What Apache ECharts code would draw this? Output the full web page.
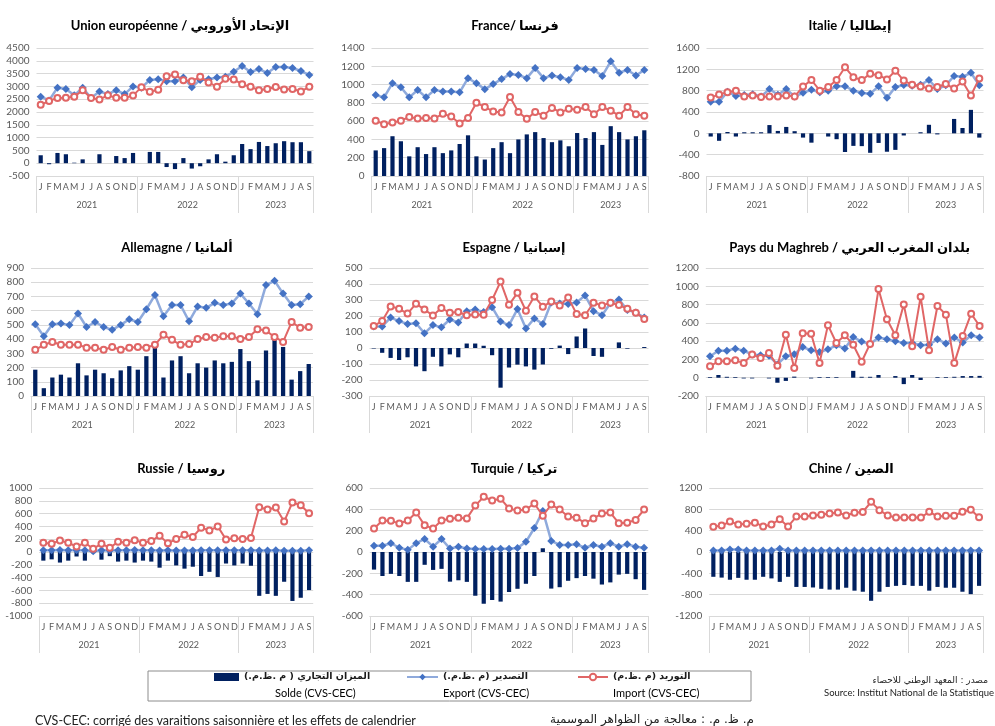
<!DOCTYPE html>
<html><head><meta charset="utf-8">
<script src="https://cdn.jsdelivr.net/npm/echarts@6.0.0/dist/echarts.min.js"></script>
<style>html,body{margin:0;padding:0;background:#fff}#c{width:995px;height:726px}</style>
</head><body><div id="c"></div>
<script>
// ---- tick labels ----
const monthLetters = ['J','F','M','A','M','J','J','A','S','O','N','D'];
const years = ['2021','2022','2023'];
const monthsPerYear = [12,12,9];

// ---- series names ----
const seriesNames = ['Solde (CVS-CEC)','Export (CVS-CEC)','Import (CVS-CEC)'];
const legendArabic = ['الميزان التجاري ( م .ظ.م.)','التصدير (م .ظ.م.)','التوريد (م .ظ.م)'];

// ---- data (million TND, CVS-CEC) ----
const euSolde  = [310,-40,400,350,20,150,0,350,0,280,200,400,0,440,440,-150,-230,200,-210,-120,150,350,60,310,750,550,830,670,780,860,820,820,470];
const euExport = [2600,2450,2950,2900,2650,2950,2550,2800,2700,2850,2700,3000,2950,3250,3280,3200,3200,3350,2970,3250,3280,3350,3380,3570,3800,3560,3680,3520,3760,3760,3720,3600,3450];
const euImport = [2280,2430,2550,2560,2600,2850,2550,2490,2650,2560,2560,2640,2970,2790,2870,3400,3460,3240,3200,3380,3150,2990,3300,3270,3080,2990,2850,2900,2980,2880,2900,2800,2990];

const frSolde  = [280,305,435,380,215,315,240,315,250,280,350,445,215,180,305,370,250,400,455,480,415,370,390,325,470,415,480,340,545,480,400,435,500];
const frExport = [885,860,1015,970,860,940,860,940,925,925,915,1070,1015,950,1005,1060,1115,1105,1070,1180,1070,1100,1080,1050,1180,1170,1160,1095,1255,1130,1160,1100,1160];
const frImport = [605,565,585,605,645,630,635,630,680,650,575,635,800,755,705,695,865,700,625,700,660,745,695,735,725,755,675,755,715,660,755,675,660];

const itSolde  = [-60,-140,25,-60,20,20,20,155,45,120,40,-80,-175,0,-60,-110,-350,-235,-240,-365,-180,-345,-310,-40,0,20,160,-20,0,270,100,440,-80];
const itExport = [590,590,780,700,720,735,690,830,725,830,690,760,815,770,800,885,885,800,755,740,885,665,870,905,890,910,1000,830,900,1075,1060,1135,900];
const itImport = [670,730,770,800,690,710,680,690,690,710,690,880,1000,800,870,1000,1240,1050,1000,1115,1090,1010,1175,990,910,880,840,870,925,840,970,710,1030];

const deSolde  = [185,55,130,150,130,230,145,185,160,125,180,210,185,280,345,130,250,280,160,230,200,250,230,240,330,245,110,320,400,345,115,175,225];
const deExport = [505,420,505,510,500,580,485,520,485,465,500,540,520,610,710,560,640,640,525,630,620,655,640,650,720,650,575,780,810,720,640,645,700];
const deImport = [325,360,380,360,360,360,340,340,325,345,325,340,345,340,360,430,395,360,365,400,415,410,420,420,400,415,470,460,415,380,520,480,485];

const esSolde  = [-3,-30,-62,-75,-58,-115,-145,-55,-115,-40,-58,28,28,14,-45,-248,-122,-104,-115,-135,-103,-5,15,-38,72,122,-50,-55,0,35,-4,0,6];
const esExport = [135,135,190,168,150,155,92,143,130,178,160,230,240,225,255,165,143,243,122,185,150,285,278,275,285,328,230,205,280,303,238,222,190];
const esImport = [138,168,260,245,215,277,240,203,250,220,225,205,210,208,300,415,270,345,233,322,258,290,265,315,213,205,283,265,283,268,245,220,182];

const mgSolde  = [8,30,10,8,-8,-8,0,-8,-55,-35,12,0,-8,8,8,8,0,75,10,10,30,0,18,-70,30,-25,0,8,8,10,18,18,20];
const mgExport = [235,295,295,318,295,255,245,240,145,235,258,335,300,280,310,355,320,445,395,365,440,420,400,380,380,355,360,420,375,440,385,465,440];
const mgImport = [125,180,180,190,160,255,215,270,130,470,105,485,480,160,575,380,465,360,175,370,970,640,465,800,345,885,300,785,690,160,455,700,565];

const ruSolde  = [-135,-115,-165,-135,-70,-135,-20,-120,-65,-150,-135,-165,-135,-150,-245,-135,-210,-260,-230,-375,-310,-390,-180,-210,-180,-215,-685,-655,-685,-465,-765,-715,-595];
const ruExport = [28,28,30,28,26,28,12,28,22,28,28,30,28,28,22,28,24,24,24,28,28,28,28,28,28,28,24,24,28,18,18,18,26];
const ruImport = [145,130,180,145,85,145,50,130,65,160,145,185,145,170,255,135,205,270,235,380,335,400,195,215,205,220,700,665,695,475,775,730,605];

const trSolde  = [-165,-225,-205,-225,-280,-280,-120,-168,-158,-278,-265,-280,-410,-485,-450,-465,-375,-345,-298,-225,35,-343,-330,-270,-245,-225,-250,-305,-285,-212,-205,-255,-355];
const trExport = [58,58,82,40,20,82,122,50,122,32,50,32,28,28,28,30,30,38,95,225,385,104,66,66,72,40,66,50,82,50,72,50,40];
const trImport = [220,295,292,268,295,370,250,220,295,312,322,315,435,518,483,500,408,388,398,455,340,445,398,333,322,270,315,360,370,270,275,300,398];

const cnSolde  = [-465,-480,-520,-485,-520,-520,-465,-495,-560,-465,-655,-655,-665,-690,-705,-705,-670,-725,-745,-915,-745,-655,-635,-620,-635,-635,-725,-655,-670,-670,-745,-790,-635];
const cnExport = [30,30,45,45,30,30,30,30,60,30,30,30,30,30,30,30,30,30,30,30,30,30,30,30,30,30,30,30,30,30,30,30,30];
const cnImport = [475,495,570,515,530,550,480,515,615,480,665,665,685,700,720,740,685,735,750,940,785,685,645,645,645,645,755,665,680,680,755,790,650];

// ---- panels ----
const panelTitles = ['Union européenne / الإتحاد الأوروبي','France/ فرنسا','Italie / إيطاليا',
  'Allemagne / ألمانيا','Espagne / إسبانيا','Pays du Maghreb / بلدان المغرب العربي',
  'Russie / روسيا','Turquie / تركيا','Chine / الصين'];
const panelData = [
  [euSolde,euExport,euImport],[frSolde,frExport,frImport],[itSolde,itExport,itImport],
  [deSolde,deExport,deImport],[esSolde,esExport,esImport],[mgSolde,mgExport,mgImport],
  [ruSolde,ruExport,ruImport],[trSolde,trExport,trImport],[cnSolde,cnExport,cnImport]];
const yRanges = [[-500,4500,500],[0,1400,200],[-800,1600,400],[0,900,100],[-300,500,100],[-200,1200,200],[-1000,1000,200],[-600,600,200],[-1200,1200,400]];

// layout (pixels)
const layout = [
  {l:36.5,w:277,t:48,tt:14},{l:371.5,w:277,t:48,tt:14},{l:706.5,w:277,t:48,tt:14},
  {l:31,w:282,t:268,tt:236},{l:369.5,w:279,t:268,tt:236},{l:705.8,w:278,t:268,tt:236},
  {l:39.2,w:274,t:488,tt:457},{l:369.8,w:278.5,t:488,tt:457},{l:709.2,w:274,t:488,tt:457}];
const plotH = 128;

// build categories
const periods = [];
years.forEach((y,yi)=>{ for(let m=0;m<monthsPerYear[yi];m++) periods.push({key:y+'-'+(m+1), letter:monthLetters[m]}); });
const monthCats = periods.map(p=>p.key);
const letterOf = {}; periods.forEach(p=>letterOf[p.key]=p.letter);
// half-month boundary axis for the year row
const nHalf = periods.length*2;
const halfCats = []; for(let k=0;k<=nHalf;k++) halfCats.push(String(k));
const yearCenter = {}; const yearBounds = [0];
let acc=0;
years.forEach((y,yi)=>{ yearCenter[acc + monthsPerYear[yi]] = y; acc += monthsPerYear[yi]*2; yearBounds.push(acc); });

const FONT = 'Lato, "DejaVu Sans", sans-serif';
const GRID_C = '#d9d9d9';
const LBL_C = '#595959';

const grids=[], xAxes=[], yAxes=[], series=[], titles=[];
panelData.forEach((pd,g)=>{
  const L = layout[g];
  grids.push({left:L.l, top:L.t, width:L.w, height:plotH, containLabel:false});
  titles.push({text:panelTitles[g], left:L.l + L.w/2, top:L.tt, textAlign:'center',
    textStyle:{fontSize:13, fontWeight:'bold', color:'#000', fontFamily:FONT}});
  xAxes.push({type:'category', gridIndex:g, data:monthCats, position:'bottom', boundaryGap:true,
    axisLine:{show:true, onZero:false, lineStyle:{color:GRID_C}}, axisTick:{show:false},
    axisLabel:{interval:0, fontSize:9, color:LBL_C, margin:7, fontFamily:FONT, formatter:v=>letterOf[v]},
    splitLine:{show:false}});
  xAxes.push({type:'category', gridIndex:g, data:halfCats, position:'bottom', boundaryGap:false,
    axisLine:{show:false, onZero:false},
    axisTick:{show:true, length:37, interval:(i)=>yearBounds.indexOf(i)>=0, lineStyle:{color:GRID_C}},
    axisLabel:{interval:(i)=>yearCenter[i]!==undefined, fontSize:9, color:LBL_C, margin:25, fontFamily:FONT,
      formatter:(v)=>yearCenter[+v]||''},
    splitLine:{show:false}});
  const yr = yRanges[g];
  yAxes.push({type:'value', gridIndex:g, min:yr[0], max:yr[1], interval:yr[2],
    axisLine:{show:false}, axisTick:{show:false},
    axisLabel:{fontSize:10, color:LBL_C, margin:7, fontFamily:FONT, formatter:(v)=>String(v)},
    splitLine:{lineStyle:{color:GRID_C, width:1}}});
  series.push({name:seriesNames[0], type:'bar', xAxisIndex:2*g, yAxisIndex:g, data:pd[0],
    barWidth:'50%', itemStyle:{color:'#002060'}, z:1});
  series.push({name:seriesNames[1], type:'line', xAxisIndex:2*g, yAxisIndex:g, data:pd[1],
    symbol:'diamond', symbolSize:8, itemStyle:{color:'#4472C4'}, lineStyle:{color:'#8FAADC', width:2.5}, z:2});
  series.push({name:seriesNames[2], type:'line', xAxisIndex:2*g, yAxisIndex:g, data:pd[2],
    symbol:'emptyCircle', symbolSize:6, itemStyle:{color:'#E06666', borderWidth:1.5}, lineStyle:{color:'#E06666', width:2}, z:3});
});

// legend French sub-labels and footer texts
const legendLeft = [214, 406, 577];
const legendWidths = [25, 31, 30];
const frenchLeft = [270, 438, 608];
seriesNames.forEach((n,i)=>{
  titles.push({text:n, left:frenchLeft[i], top:683, textStyle:{fontSize:11, fontWeight:'normal', color:'#000', fontFamily:FONT}});
});
titles.push({text:'مصدر : المعهد الوطني للاحصاء', right:2, top:671, textStyle:{fontSize:9, fontWeight:'normal', color:'#222', fontFamily:'"DejaVu Sans", sans-serif'}});
titles.push({text:'Source: Institut National de la Statistique', left:819, top:683, textStyle:{fontSize:9.5, fontWeight:'normal', color:'#222', fontFamily:FONT}});
titles.push({text:'CVS-CEC: corrigé des varaitions saisonnière et les effets de calendrier', left:30, top:709, textStyle:{fontSize:12.5, fontWeight:'normal', color:'#222', fontFamily:FONT}});
titles.push({text:'م. ظ. م. : معالجة من الظواهر الموسمية', left:545, top:709, textStyle:{fontSize:12, fontWeight:'normal', color:'#222', fontFamily:'"DejaVu Sans", sans-serif'}});

const legends = seriesNames.map((n,i)=>({
  data:[n], left:legendLeft[i], top:672, itemWidth:legendWidths[i], itemHeight:8, itemGap:4, padding:0,
  icon: i===0 ? 'rect' : undefined,
  formatter:()=>legendArabic[i],
  textStyle:{fontSize:9.5, fontWeight:'bold', color:'#1a1a1a', fontFamily:'"DejaVu Sans", sans-serif'}
}));

const chart = echarts.init(document.getElementById('c'), null, {renderer:'canvas'});
chart.setOption({
  animation:false,
  backgroundColor:'#fff',
  title:titles,
  legend:legends,
  grid:grids, xAxis:xAxes, yAxis:yAxes, series:series,
  graphic:[{type:'rect', shape:{x:148, y:671, width:603, height:30}, style:{fill:'none', stroke:'#8c8c8c', lineWidth:1}, silent:true}]
});
</script></body></html>
